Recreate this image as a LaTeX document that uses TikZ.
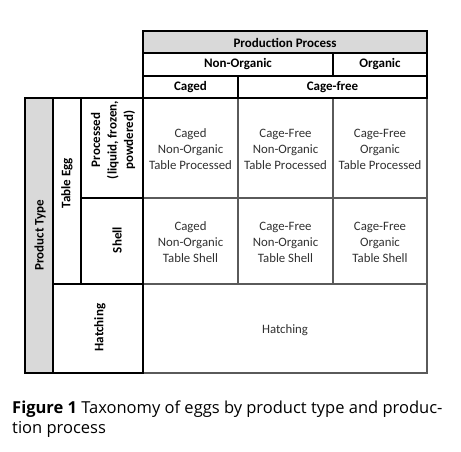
\documentclass[tikz,border=0pt]{standalone}
\usepackage{fontspec}
\setmainfont{Carlito}
\newfontfamily\capfont{Open Sans}
\definecolor{hdrgray}{HTML}{D9D9D9}
\definecolor{gridgray}{HTML}{5A5A5A}
\definecolor{celltxt}{HTML}{303030}
\begin{document}
\begin{tikzpicture}[x=1pt,y=-1pt,
  hdr/.style={draw=black,line width=1.5pt,font=\bfseries\fontsize{13}{15}\selectfont},
  gridline/.style={draw=gridgray,line width=1.1pt},
  celltext/.style={align=center,text=celltxt,font=\fontsize{12.8}{16}\selectfont},
  vtext/.style={align=center,rotate=90,font=\bfseries\fontsize{13}{16.5}\selectfont}]
\useasboundingbox (0,0) rectangle (461,452);
% body grid
\draw[gridline] (143,98) rectangle (427,373);
\draw[gridline] (143,198) -- (427,198);
\draw[gridline] (143,284) -- (427,284);
\draw[gridline] (238,98) -- (238,284);
\draw[gridline] (333,98) -- (333,284);
% header
\draw[hdr,fill=hdrgray] (143,31) rectangle (427,53);
\draw[hdr] (143,53) rectangle (333,76);
\draw[hdr] (333,53) rectangle (427,76);
\draw[hdr] (143,76) rectangle (238,98);
\draw[hdr] (238,76) rectangle (427,98);
\node[hdr,draw=none] (pp) at (285,42.5) {Production Process};
\node[hdr,draw=none] (nonorg) at (238,64.5) {Non-Organic};
\node[hdr,draw=none] (org) at (380,64.5) {Organic};
\node[hdr,draw=none] (caged) at (190.5,87) {Caged};
\node[hdr,draw=none] (cagefree) at (332.5,87) {Cage-free};
% left side
\draw[hdr,fill=hdrgray] (25,98) rectangle (53,373);
\draw[hdr] (53,98) rectangle (81,284);
\draw[hdr] (81,98) rectangle (143,198);
\draw[hdr] (81,198) rectangle (143,284);
\draw[hdr] (53,284) rectangle (143,373);
\draw[hdr] (25,98) -- (143,98);
\node[vtext] (ptype) at (40,235) {Product Type};
\node[vtext] (tegg) at (67,183) {Table Egg};
\node[vtext] (proc) at (113,140) {Processed\\(liquid, frozen,\\powdered)};
\node[vtext] (shell) at (117,240) {Shell};
\node[vtext] (hatchl) at (100,327.5) {Hatching};
% cells
\node[celltext] (c11) at (190.5,149) {Caged\\Non-Organic\\Table Processed};
\node[celltext] (c12) at (285.5,149) {Cage-Free\\Non-Organic\\Table Processed};
\node[celltext] (c13) at (380,149) {Cage-Free\\Organic\\Table Processed};
\node[celltext] (c21) at (190.5,242) {Caged\\Non-Organic\\Table Shell};
\node[celltext] (c22) at (285.5,242) {Cage-Free\\Non-Organic\\Table Shell};
\node[celltext] (c23) at (380,242) {Cage-Free\\Organic\\Table Shell};
\node[celltext] (hatch) at (285,330) {Hatching};
% caption
\node[anchor=base west,align=left,inner sep=0pt,font=\capfont\fontsize{16.5}{20}\selectfont] (cap) at (12,433)
  {\textbf{Figure 1} Taxonomy of eggs by product type and produc-\\tion process};
\end{tikzpicture}
\end{document}
